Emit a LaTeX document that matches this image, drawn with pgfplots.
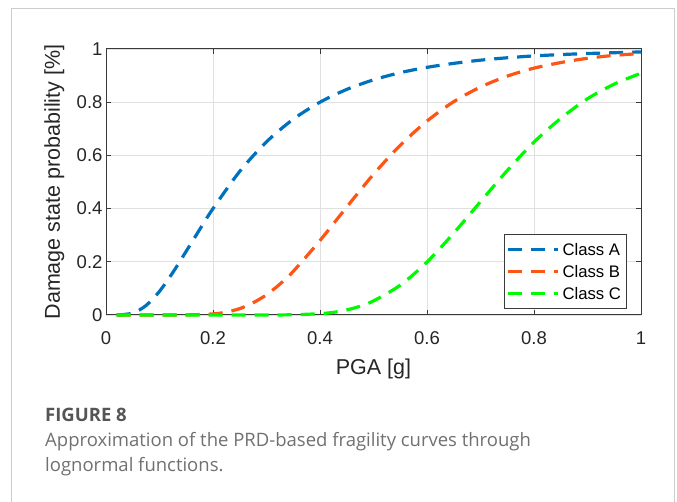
\documentclass[border=0pt]{standalone}
\usepackage{fontspec}
\setmainfont{Liberation Sans}
\newfontfamily\capfont{Open Sans}
\usepackage{pgfplots}
\pgfplotsset{compat=1.18}

\definecolor{clsA}{HTML}{0072BD}
\definecolor{clsB}{RGB}{255,85,20}
\definecolor{clsC}{RGB}{0,250,0}
\definecolor{axgray}{HTML}{3A3A3A}
\definecolor{txtgray}{HTML}{262626}
\definecolor{gridgray}{HTML}{E0E0E0}
\definecolor{framegray}{HTML}{CCCCCC}
\definecolor{figgray}{HTML}{555555}
\definecolor{capgray}{HTML}{707070}

\begin{document}
\begin{tikzpicture}[x=1pt,y=1pt]
\useasboundingbox (0,0) rectangle (677,502);
\draw[framegray, line width=1pt] (11,-5) -- (11,493) -- (674,493) -- (674,-5);

\begin{axis}[
    at={(106pt,187pt)}, anchor=south west,
    scale only axis, width=535pt, height=266pt,
    xmin=0, xmax=1, ymin=0, ymax=1,
    xtick={0,0.2,0.4,0.6,0.8,1},
    ytick={0,0.2,0.4,0.6,0.8,1},
    clip=false,
    grid=major,
    major grid style={draw=gridgray, line width=0.8pt},
    axis line style={draw=axgray, line width=1pt},
    tick style={draw=axgray, line width=1pt},
    tick align=inside,
    major tick length=5pt,
    /pgf/number format/assume math mode=true,
    tick label style={font=\fontsize{18.5}{20}\selectfont, text=txtgray},
    xticklabel style={anchor=base, yshift=-30pt},
    xlabel={PGA [g]},
    ylabel={Damage state probability [\%]},
    label style={font=\fontsize{21.5}{23}\selectfont, text=txtgray},
    xlabel style={at={(axis description cs:0.5,0)}, anchor=base, yshift=-60pt},
    ylabel style={at={(axis description cs:-0.086,0.5)}, anchor=base, rotate=0},
    legend style={at={(0.744,0.3045)}, anchor=north west,
        draw=axgray, line width=0.6pt, fill=white,
        font=\fontsize{16.7}{18}\selectfont, text=black,
        inner xsep=2pt, inner ysep=4pt, row sep=0pt,
        nodes={text height=12pt, text depth=0pt, inner ysep=5pt, inner xsep=3pt}},
    legend cell align=left,
    legend image code/.code={\draw[#1] (0pt,0pt) -- (50pt,0pt);},
]
\addplot[clsA, line width=3.2pt, line cap=butt, dash pattern=on 14pt off 9pt, smooth] coordinates {
(0.02,0) (0.05,0.007) (0.075,0.036) (0.10,0.089) (0.125,0.160) (0.15,0.240)
(0.175,0.321) (0.20,0.400) (0.25,0.540) (0.30,0.651) (0.35,0.736) (0.40,0.800)
(0.45,0.848) (0.50,0.884) (0.55,0.911) (0.60,0.931) (0.65,0.946) (0.70,0.958)
(0.75,0.967) (0.80,0.974) (0.85,0.979) (0.90,0.983) (0.95,0.986) (1.00,0.989)
};
\addlegendentry{Class A}
\addplot[clsB, line width=3.2pt, line cap=butt, dash pattern=on 14pt off 9pt, smooth] coordinates {
(0.02,0) (0.05,0) (0.10,0) (0.15,0.0003) (0.20,0.004) (0.225,0.011) (0.25,0.024)
(0.275,0.046) (0.30,0.076) (0.325,0.116) (0.35,0.164) (0.40,0.280) (0.45,0.406)
(0.50,0.529) (0.55,0.638) (0.60,0.729) (0.65,0.802) (0.70,0.857) (0.75,0.898)
(0.80,0.928) (0.85,0.949) (0.90,0.965) (0.95,0.976) (1.00,0.983)
};
\addlegendentry{Class B}
\addplot[clsC, line width=3.2pt, line cap=butt, dash pattern=on 14pt off 9pt, smooth] coordinates {
(0.02,0) (0.10,0) (0.20,0) (0.30,0) (0.35,0.001) (0.40,0.005) (0.425,0.010)
(0.45,0.019) (0.475,0.033) (0.50,0.053) (0.55,0.112) (0.60,0.199) (0.65,0.308)
(0.70,0.426) (0.75,0.543) (0.80,0.650) (0.85,0.739) (0.90,0.813) (0.95,0.868)
(1.00,0.909)
};
\addlegendentry{Class C}
\end{axis}

\node[anchor=base west, inner sep=0, text=figgray,
      font=\capfont\bfseries\fontsize{18.5}{22}\selectfont] at (45,80) {FIGURE 8};
\node[anchor=base west, inner sep=0, text=capgray,
      font=\capfont\fontsize{18.5}{22}\selectfont] at (45,55)
      {Approximation of the PRD-based fragility curves through};
\node[anchor=base west, inner sep=0, text=capgray,
      font=\capfont\fontsize{18.5}{22}\selectfont] at (45,30)
      {lognormal functions.};
\end{tikzpicture}
\end{document}
